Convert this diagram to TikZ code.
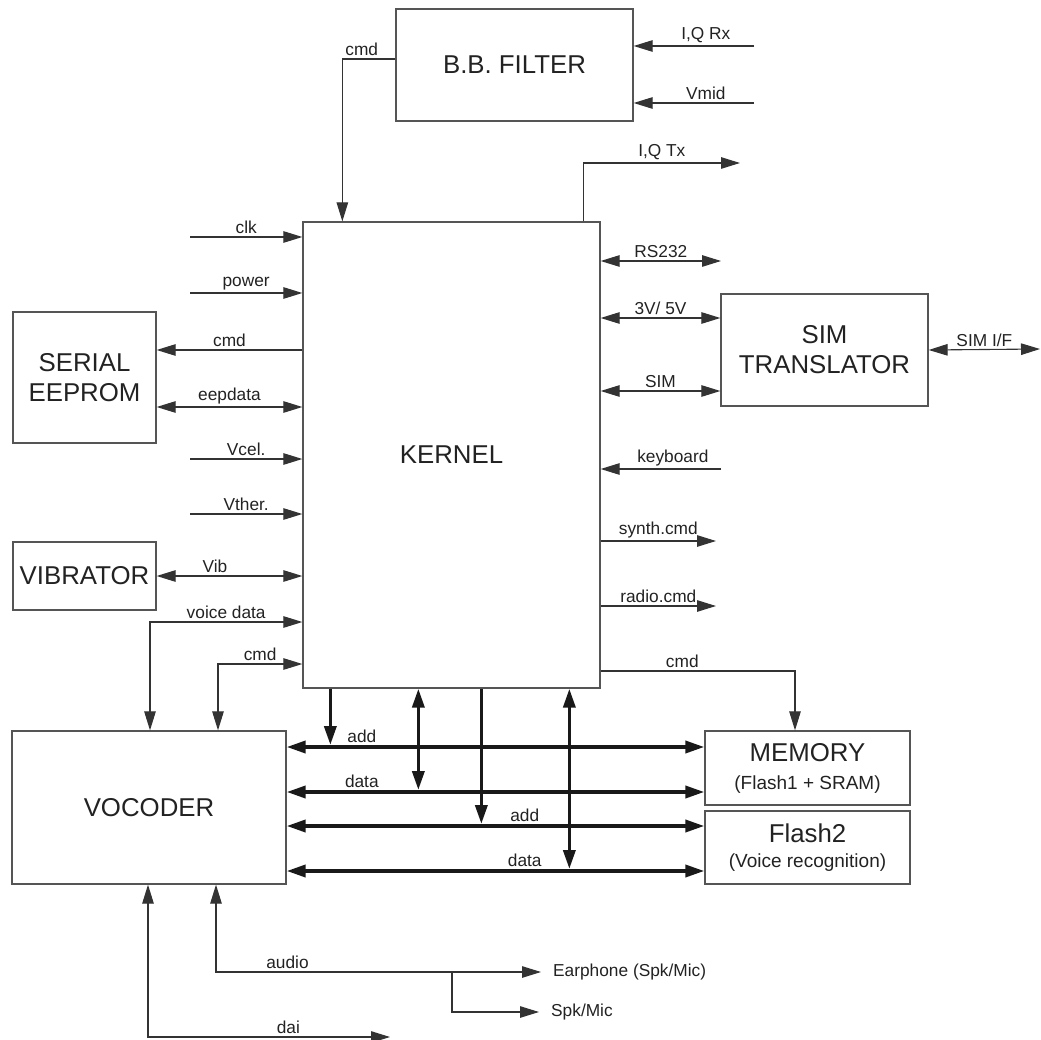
\documentclass[tikz,border=0pt]{standalone}
\usepackage{fontspec}
\setmainfont{Liberation Sans}
\usepackage{xcolor}
\usetikzlibrary{arrows.meta,calc}
\definecolor{linegray}{HTML}{333333}
\definecolor{boxgray}{HTML}{555555}
\definecolor{textgray}{HTML}{222222}
\newcommand{\memsub}{\fontsize{19}{20}\selectfont}

\begin{document}
\begin{tikzpicture}[x=1pt,y=-1pt,
  block/.style={draw=boxgray,line width=1.3pt,inner sep=0pt,align=center,text=textgray,
    font=\fontsize{25.8}{30}\selectfont},
  sig/.style={draw=linegray,line width=1.1pt,>={Triangle[length=19pt,width=11.5pt]}},
  bus/.style={draw=black!90,line width=3.6pt,>={Triangle[length=19pt,width=12pt]}},
  lbl/.style={font=\fontsize{17.3}{19}\selectfont,text=textgray,inner sep=2.5pt}]
  \useasboundingbox (0,0) rectangle (1041,1040);

  % blocks
  \node[block,minimum width=237pt,minimum height=112pt] (bbf) at (514.5,65) {B.B. FILTER};
  \node[block,minimum width=297pt,minimum height=466pt] (kern) at (451.5,455) {KERNEL};
  \node[block,minimum width=143pt,minimum height=131pt] (eep) at (84.5,377.5) {SERIAL\\EEPROM};
  \node[block,minimum width=143pt,minimum height=68pt] (vib) at (84.5,576) {VIBRATOR};
  \node[block,minimum width=207pt,minimum height=112pt] (sim) at (824.5,350) {SIM\\TRANSLATOR};
  \node[block,minimum width=274pt,minimum height=153pt] (voc) at (149,807.5) {VOCODER};
  \node[block,minimum width=205pt,minimum height=74pt,font=\fontsize{25.8}{28}\selectfont] (mem) at (807.5,768)
    {MEMORY\\{\memsub (Flash1 + SRAM)}};
  \node[block,minimum width=205pt,minimum height=73pt,font=\fontsize{25.8}{25}\selectfont] (fl2) at (807.5,847.5)
    {Flash2\\{\memsub (Voice recognition)}};
  \node[lbl,anchor=west,inner xsep=12pt] (ear) at (541,972) {Earphone (Spk/Mic)};
  \node[lbl,anchor=west,inner xsep=12pt] (spk) at (539,1012) {Spk/Mic};

  % B.B. filter
  \coordinate (iqrx) at (754,46);
  \coordinate (vmid) at (754,103);
  \coordinate (iqtx) at (740,163);
  \draw[sig,->] (iqrx) -- (iqrx -| bbf.east) node[lbl,above,pos=0.4] {I,Q Rx};
  \draw[sig,->] (vmid) -- (vmid -| bbf.east) node[lbl,above,pos=0.4] {Vmid};
  \draw[sig,->] ([yshift=6pt]bbf.west) -| node[lbl,above right,pos=0.5] {cmd} ([xshift=40pt]kern.north west);
  \draw[sig,->] ([xshift=-17pt]kern.north east) |- (iqtx) node[lbl,above,pos=0.75] {I,Q Tx};

  % left side
  \foreach \y/\txt in {237/clk,293/power,459/Vcel.,514/Vther.}{
    \coordinate (src) at (190,\y);
    \draw[sig,->] (src) -- (src -| kern.west) node[lbl,above,midway] {\txt};
  }
  \draw[sig,<-] ([yshift=27.5pt]eep.east) -- ([yshift=27.5pt]eep.east -| kern.west) node[lbl,above,midway] {cmd};
  \draw[sig,<->] ([yshift=-29.5pt]eep.east) -- ([yshift=-29.5pt]eep.east -| kern.west) node[lbl,above,midway] {eepdata};
  \draw[sig,<->] (vib.east) -- (vib.east -| kern.west) node[lbl,above,pos=0.4] {Vib};
  \draw[sig,<->] ([yshift=-167pt]kern.west) -| node[lbl,above,pos=0.25] {voice data} ([xshift=1pt]voc.north);
  \draw[sig,<->] ([yshift=-209pt]kern.west) -| node[lbl,above,pos=0.25] {cmd} ([xshift=69pt]voc.north);

  % right side
  \coordinate (rs) at (721,261);
  \coordinate (simif) at (1040,349);
  \coordinate (keyb) at (721,469);
  \draw[sig,<->] (rs -| kern.east) -- (rs) node[lbl,above,midway] {RS232};
  \draw[sig,<->] ([yshift=32pt]sim.west -| kern.east) -- ([yshift=32pt]sim.west) node[lbl,above,midway] {3V/ 5V};
  \draw[sig,<->] ([yshift=-41pt]sim.west -| kern.east) -- ([yshift=-41pt]sim.west) node[lbl,above,midway] {SIM};
  \draw[sig,<->] (sim.east) -- (simif) node[lbl,above,midway] {SIM I/F};
  \draw[sig,->] (keyb) -- (keyb -| kern.east) node[lbl,above,pos=0.4] {keyboard};
  \foreach \y/\txt in {541/synth.cmd,606/radio.cmd}{
    \coordinate (dst) at (716,\y);
    \draw[sig,->] (dst -| kern.east) -- (dst) node[lbl,above,midway] {\txt};
  }
  \draw[sig,->] ([yshift=-216pt]kern.east) -| node[lbl,above,pos=0.21] {cmd} ([xshift=-12.5pt]mem.north);

  % buses
  \coordinate (addA) at ([yshift=21pt]mem.west);
  \coordinate (datA) at ([yshift=-24pt]mem.west);
  \coordinate (addB) at ([yshift=21.5pt]fl2.west);
  \coordinate (datB) at ([yshift=-23.5pt]fl2.west);
  \draw[bus,<->] (voc.east |- addA) -- (addA) node[lbl,above,pos=0.18] {add};
  \draw[bus,<->] (voc.east |- datA) -- (datA) node[lbl,above,pos=0.18] {data};
  \draw[bus,<->] (voc.east |- addB) -- (addB) node[lbl,above,pos=0.57] {add};
  \draw[bus,<->] (voc.east |- datB) -- (datB) node[lbl,above,pos=0.57] {data};
  \draw[bus,->,shorten >=2pt] ([xshift=28pt]kern.south west) -- ([xshift=28pt]kern.south west |- addA);
  \draw[bus,<->,shorten >=2pt] ([xshift=116pt]kern.south west) -- ([xshift=116pt]kern.south west |- datA);
  \draw[bus,->,shorten >=2pt] ([xshift=179pt]kern.south west) -- ([xshift=179pt]kern.south west |- addB);
  \draw[bus,<->,shorten >=2pt] ([xshift=267pt]kern.south west) -- ([xshift=267pt]kern.south west |- datB);

  % audio
  \coordinate (dai) at (390,1037);
  \coordinate (tap) at (452,972);
  \draw[sig,<->] ([xshift=67pt]voc.south) |- (ear.west) node[lbl,above,pos=0.61] {audio};
  \draw[sig,->] (tap) |- (spk.west);
  \draw[sig,<->] ([xshift=-1pt]voc.south) |- (dai) node[lbl,above,pos=0.79] {dai};
\end{tikzpicture}
\end{document}
